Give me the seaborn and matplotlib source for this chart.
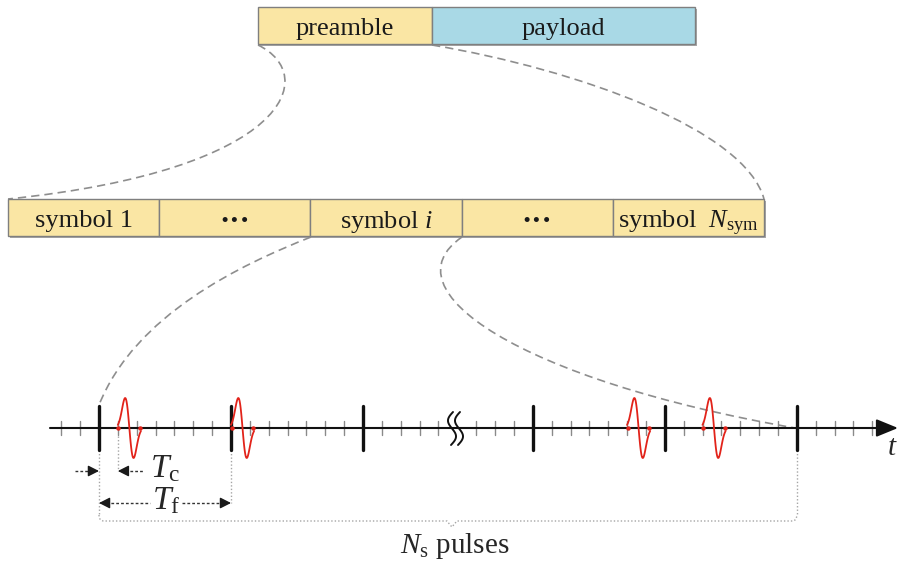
import numpy as np
import pandas as pd
import matplotlib.pyplot as plt
from matplotlib.patches import Rectangle, PathPatch
from matplotlib.path import Path
import seaborn as sns

# --- packet structure ---
packet_fields = ['preamble', 'payload']
packet_widths = [174, 263]
packet_colors = ['#fae6a4', '#a9d9e6']

symbol_labels = ['symbol 1', '···', r'symbol $i$', '···', r'symbol  $N_{\mathrm{sym}}$']

# --- time axis (in chips) ---
frame_marks = [0, 7, 14, 23, 30, 37]      # bold ticks = frame boundaries
chip_ticks = [c for c in range(-2, 42) if c not in frame_marks and c != 19]
break_chip = 19                            # axis break between frames
pulse_chips = [1, 7, 28, 32]               # pulse start positions (time hopping)

CHIP_PX = 18.86
X0 = 99
AXIS_Y = 428


def chip_x(c):
    return X0 + np.asarray(c, dtype=float) * CHIP_PX


sns.set_theme(style='white')
plt.rcParams['font.family'] = ['Liberation Serif', 'DejaVu Serif']
plt.rcParams['mathtext.fontset'] = 'custom'
plt.rcParams['mathtext.rm'] = 'Liberation Serif'
plt.rcParams['mathtext.it'] = 'Liberation Serif:italic'

fig = plt.figure(figsize=(9, 5.63), dpi=100)
ax = fig.add_axes([0, 0, 1, 1])

edge = '#7f7f7f'
dash_col = '#8e8e8e'
red = '#e2231a'


def box(x, y, w, h, fc, label, size=19, weight='normal'):
    ax.add_patch(Rectangle((x + 1.5, y + 1.5), w, h, fc='#a8a8a8', ec='none', zorder=1))
    ax.add_patch(Rectangle((x, y), w, h, fc=fc, ec=edge, lw=1, zorder=2))
    ax.text(x + w / 2, y + h / 2 + 1, label, ha='center', va='center_baseline',
            fontsize=size, fontweight=weight, color='#1a1a1a', zorder=3)


def dashed_curve(p0, p1, p2, p3):
    path = Path([p0, p1, p2, p3], [Path.MOVETO, Path.CURVE4, Path.CURVE4, Path.CURVE4])
    ax.add_patch(PathPatch(path, fc='none', ec=dash_col, lw=1.2, ls=(0, (5, 3)), zorder=1))


def arrow_head(tip_x, y, direction):
    ax.annotate('', xy=(tip_x, y), xytext=(tip_x - direction * 9, y),
                arrowprops=dict(arrowstyle='-|>,head_length=0.65,head_width=0.33',
                                color='k', lw=1, shrinkA=0, shrinkB=0, mutation_scale=10))


# top packet
x = 258
for name, w, col in zip(packet_fields, packet_widths, packet_colors):
    box(x, 7, w, 37, col, name)
    x += w

# symbol row
sym_w = 151.2
for k, lab in enumerate(symbol_labels):
    if lab == '···':
        box(8 + k * sym_w, 199, sym_w, 37, packet_colors[0], lab, size=22, weight='bold')
    else:
        box(8 + k * sym_w, 199, sym_w, 37, packet_colors[0], lab)

# dashed zoom connectors
dashed_curve((258, 45), (320, 75), (290, 170), (8, 199))
dashed_curve((432, 45), (580, 70), (745, 130), (764, 199))
dashed_curve((311, 237), (240, 265), (135, 315), (99, 405))
dashed_curve((462, 237), (385, 290), (520, 380), (795, 428))

# time axis
ax.plot([50, 885], [AXIS_Y, AXIS_Y], color='#111111', lw=1.5, zorder=3)
ax.annotate('', xy=(898, AXIS_Y), xytext=(880, AXIS_Y),
            arrowprops=dict(arrowstyle='-|>,head_length=1.1,head_width=0.45',
                            color='#111111', lw=1.5, shrinkA=0, shrinkB=0, mutation_scale=12))
ax.text(887, 448, '$t$', fontsize=21, ha='left', va='center')

for c in chip_ticks:
    ax.plot([chip_x(c)] * 2, [421, 435], color='#8a8a8a', lw=1, zorder=2)
for c in frame_marks:
    ax.plot([chip_x(c)] * 2, [406, 450], color='#111111', lw=2.4, zorder=4)

# axis break squiggles
s = np.linspace(0, 1, 60)
for xc in (452, 459):
    ax.plot(xc - 4.5 * np.sin(2 * np.pi * s) + 2 * (0.5 - s), 412 + 33 * s,
            color='#111111', lw=1.4, zorder=5)

# pulses (gaussian monocycle glyph)
u = np.linspace(-2.75, 2.75, 80)
shape = -u * np.exp((1 - u ** 2) / 2)
rows = []
for k, c in enumerate(pulse_chips):
    x_start = chip_x(c)
    xs = x_start + 11.5 + u * 4.2
    for xx, yy in zip(xs, AXIS_Y - 30 * shape):
        rows.append({'x': xx, 'y': yy, 'pulse': k})
pulse_df = pd.DataFrame(rows)
sns.lineplot(data=pulse_df, x='x', y='y', units='pulse', estimator=None, sort=False,
             color=red, lw=1.3, ax=ax, zorder=6, legend=False)
for c in pulse_chips:
    ax.plot([chip_x(c) + 0.5, chip_x(c) + 22], [AXIS_Y, AXIS_Y], ls='none',
            marker='o', ms=2.2, color=red, zorder=6)

# dimension lines
dot_col = '#a5a5a5'
dot_ls = (0, (1, 1.5))
ax.plot([chip_x(0)] * 2, [450, 515], color=dot_col, lw=1, ls=dot_ls)
ax.plot([chip_x(37)] * 2, [450, 515], color=dot_col, lw=1, ls=dot_ls)
ax.plot([chip_x(7)] * 2, [450, 503], color=dot_col, lw=1, ls=dot_ls)
ax.plot([chip_x(1)] * 2, [436, 471], color=dot_col, lw=1, ls=dot_ls)

# T_c
ax.plot([75, 92], [471, 471], color='#333333', lw=1, ls=(0, (2, 1.5)))
arrow_head(chip_x(0), 471, 1)
ax.plot([125, 143], [471, 471], color='#333333', lw=1, ls=(0, (2, 1.5)))
arrow_head(chip_x(1), 471, -1)
ax.text(150, 469, r'$T_{\mathrm{c}}$', fontsize=24, ha='left', va='center')

# T_f
ax.plot([106, 150], [503, 503], color='#333333', lw=1, ls=(0, (2, 1.5)))
arrow_head(chip_x(0), 503, -1)
ax.plot([182, 224], [503, 503], color='#333333', lw=1, ls=(0, (2, 1.5)))
arrow_head(chip_x(7), 503, 1)
ax.text(152, 501, r'$T_{\mathrm{f}}$', fontsize=24, ha='left', va='center')

# brace for N_s pulses
xl, xr = float(chip_x(0)), float(chip_x(37))
xm = (xl + xr) / 2 + 4
brace = Path([(xl, 515), (xl, 521), (xl + 5, 521), (xm - 5, 521), (xm, 527),
              (xm + 5, 521), (xr - 5, 521), (xr, 521), (xr, 515)],
             [Path.MOVETO, Path.CURVE3, Path.CURVE3, Path.LINETO, Path.LINETO,
              Path.LINETO, Path.LINETO, Path.CURVE3, Path.CURVE3])
ax.add_patch(PathPatch(brace, fc='none', ec=dot_col, lw=1, ls=dot_ls))
ax.text(455, 546, r'$N_{\mathrm{s}}$ pulses', fontsize=21, ha='center', va='center')

ax.set_xlim(0, 900)
ax.set_ylim(563, 0)
ax.axis('off')
fig.savefig('out.png', dpi=100)
